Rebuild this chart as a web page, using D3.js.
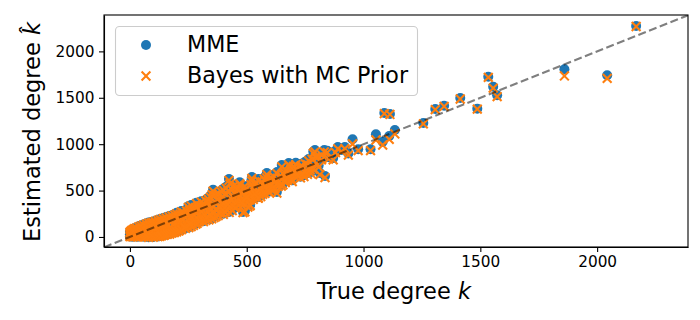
<!DOCTYPE html>
<html>
<head>
<meta charset="utf-8">
<script src="https://cdn.jsdelivr.net/npm/d3@7"></script>
<style>
  html, body { margin: 0; padding: 0; background: #fff; }
  text { font-family: "DejaVu Sans", sans-serif; fill: #000; }
  .tick text { font-size: 15.3px; }
  .tick line, .domain { stroke: #000; stroke-width: 1.1px; }
</style>
</head>
<body>
<div id="chart"></div>
<script>
// Values: true degree, MME estimate, Bayes estimate
var trueDegree = [
  0,0,0,2,3,3,5,6,8,8,
  12,12,14,18,18,20,24,24,28,30,
  34,35,38,40,42,46,48,50,52,55,
  58,60,62,65,68,70,72,75,78,80,
  84,85,88,90,92,95,98,100,100,100,
  105,108,110,112,115,118,120,122,125,128,
  130,132,135,138,140,142,145,148,150,152,
  155,158,160,162,165,168,170,172,175,178,
  180,182,185,188,190,192,195,198,200,202,
  205,208,210,212,215,218,220,222,225,228,
  230,232,235,238,240,242,245,248,250,252,
  255,258,260,262,265,268,270,272,275,278,
  280,282,285,288,290,292,295,298,300,302,
  305,310,312,315,318,320,325,328,330,335,
  338,340,345,348,350,355,358,360,365,368,
  370,375,378,380,385,388,390,395,398,400,
  405,408,410,415,418,420,424,425,428,430,
  435,438,440,445,448,450,455,458,460,465,
  468,470,475,478,480,484,485,488,490,495,
  498,500,505,508,510,514,515,518,520,522,
  525,528,530,535,538,540,545,548,550,555,
  558,560,565,568,570,575,578,580,586,590,
  595,598,600,605,608,610,615,620,625,629,
  630,635,640,645,650,655,660,665,670,675,
  680,685,690,695,700,705,710,715,720,728,
  730,735,740,745,750,755,760,765,770,775,
  780,785,792,800,805,813,820,832,835,850,
  870,880,890,906,920,935,953,977,1030,1053,
  1082,1089,1110,1113,1134,1256,1307,1345,1414,1487,
  1534,1555,1572,1860,2043,2167,
  60,70,80,90,100,110,120,128,135,145,
  150,160,170,180,190,200,210,220,235,257,
  250,262,272,285,295,305,315,325,335,342,
  345,352,356,362,370,378,385,392,400,405,
  412,420,428,435,442,450,458,465,472,480,
  488,492,500,508,515,521,528,535,542,550,
  558,565,572,580,585,592,600,608,615,622,
  630,640,648,656,664,672,685,692,700,710,
  720,735,748,760,772,785,795,808,822,845
];
var mmeDegree = [
  5,30,55,15,40,62,8,50,20,75,
  2,45,85,10,60,95,5,40,100,70,
  3,55,115,30,85,8,125,60,100,10,
  135,40,85,15,120,145,60,20,100,155,
  25,130,70,160,45,110,165,30,85,135,
  60,175,105,25,145,80,185,40,120,160,
  195,30,95,140,65,205,45,115,170,85,
  215,50,130,190,75,225,40,105,160,60,
  235,90,195,55,140,245,75,170,260,90,
  120,215,70,165,255,100,280,85,190,135,
  270,110,220,95,160,290,120,240,185,105,
  300,135,215,115,265,165,310,130,235,190,
  320,145,275,150,205,330,170,250,180,345,
  220,200,300,170,360,245,185,330,210,280,
  190,375,240,315,200,350,265,215,390,225,
  300,410,235,340,260,425,280,320,450,250,
  355,275,480,300,395,510,625,270,420,320,
  530,290,440,345,385,470,330,560,400,350,
  440,590,370,480,345,270,420,510,375,460,
  395,540,330,430,470,345,410,580,450,647,
  490,415,530,440,600,460,510,430,625,480,
  550,445,610,470,520,640,480,570,690,500,
  610,490,650,520,585,545,670,530,620,485,
  700,560,610,680,776,575,720,600,650,625,
  797,640,750,610,780,670,800,680,740,776,
  650,790,700,665,810,730,690,840,760,700,
  860,745,937,810,880,690,850,937,657,860,
  850,930,970,937,970,900,1053,945,945,1106,
  1027,1336,1088,1325,1153,1228,1379,1415,1498,1383,
  1727,1620,1527,1807,1742,2273,
  2,5,-3,8,0,10,5,10,15,20,
  25,30,35,45,50,60,70,85,110,145,
  330,345,290,370,310,385,335,400,420,250,
  440,470,510,460,300,480,330,500,520,280,
  540,360,590,410,560,320,530,470,575,380,
  550,280,440,505,350,620,560,480,595,430,
  535,600,490,625,655,510,580,650,540,620,
  590,660,560,700,620,730,780,640,700,750,
  680,770,720,800,740,920,880,770,900,930
];
var bayesDegree = [
  3,28,50,14,38,58,6,48,18,70,
  1,42,80,8,58,90,4,38,95,66,
  2,52,110,28,80,7,118,58,96,9,
  128,38,82,14,115,138,58,18,96,148,
  24,125,68,152,43,106,158,28,82,130,
  58,168,102,24,140,78,178,38,116,154,
  188,28,92,135,63,198,44,112,164,82,
  206,48,126,184,72,216,38,102,154,58,
  226,86,188,54,135,236,72,164,250,88,
  116,208,68,160,246,96,270,82,184,130,
  260,106,212,92,154,280,116,232,178,102,
  290,130,208,112,256,160,300,126,228,184,
  310,140,266,146,198,320,165,242,175,335,
  214,194,290,165,350,238,180,320,204,272,
  185,362,234,305,195,340,258,210,378,220,
  292,398,230,330,254,412,272,312,436,244,
  345,268,466,292,384,496,610,264,408,312,
  516,284,428,336,376,458,322,545,390,342,
  430,575,362,468,338,262,410,496,366,448,
  386,526,322,420,458,336,400,565,440,630,
  478,406,516,430,585,450,498,420,608,468,
  536,436,594,460,508,622,470,556,672,490,
  594,480,632,508,570,532,652,518,604,472,
  682,546,596,662,756,562,700,586,634,610,
  776,624,730,596,760,654,780,664,722,756,
  636,770,684,650,790,712,674,820,742,684,
  838,728,916,792,860,672,830,916,640,840,
  830,910,950,920,952,882,1002,930,930,1045,
  991,1330,1052,1320,1110,1218,1372,1408,1487,1378,
  1720,1605,1512,1735,1710,2268,
  1,4,-4,6,-2,8,3,8,12,18,
  22,28,32,42,48,56,66,80,104,138,
  318,335,280,360,300,375,325,390,408,240,
  428,455,495,448,290,465,320,485,505,270,
  525,350,572,398,545,312,515,458,560,370,
  536,272,428,492,340,603,545,468,580,420,
  520,585,478,608,638,498,565,632,528,604,
  575,642,548,680,604,710,760,624,682,730,
  662,750,702,780,722,900,860,752,880,910
];
var xTicks = [0, 500, 1000, 1500, 2000];
var yTicks = [0, 500, 1000, 1500, 2000];

var margin = {top: 15, right: 12, bottom: 73, left: 104},
    width = 700 - margin.left - margin.right,
    height = 320 - margin.top - margin.bottom;

var xScale = d3.scaleLinear().domain([-111, 2389]).range([0, width]),
    yScale = d3.scaleLinear().domain([-108, 2392]).range([height, 0]);

var svg = d3.select("#chart").append("svg")
    .attr("width", 700)
    .attr("height", 320)
    .style("display", "block");

svg.append("defs").append("clipPath").attr("id", "plot-clip")
  .append("rect").attr("width", width).attr("height", height);

var g = svg.append("g")
    .attr("transform", "translate(" + margin.left + "," + margin.top + ")");

var plot = g.append("g").attr("clip-path", "url(#plot-clip)");

// MME circles
plot.selectAll("circle.mme")
    .data(trueDegree)
  .enter().append("circle")
    .attr("class", "mme")
    .attr("cx", function (d) { return xScale(d); })
    .attr("cy", function (d, i) { return yScale(mmeDegree[i]); })
    .attr("r", 5)
    .attr("fill", "#1f77b4");

// Bayes crosses
function cross(size) {
  return "M" + (-size) + "," + (-size) + "L" + size + "," + size +
         "M" + (-size) + "," + size + "L" + size + "," + (-size);
}
plot.selectAll("path.bayes")
    .data(trueDegree)
  .enter().append("path")
    .attr("class", "bayes")
    .attr("d", cross(4.4))
    .attr("transform", function (d, i) {
      return "translate(" + xScale(d) + "," + yScale(bayesDegree[i]) + ")";
    })
    .attr("fill", "none")
    .attr("stroke", "#ff7f0e")
    .attr("stroke-width", 2.1);

// y = x reference line
plot.append("path")
    .attr("d", d3.line()
      .x(function (d) { return xScale(d); })
      .y(function (d) { return yScale(d); })([-111, 2392]))
    .attr("fill", "none")
    .attr("stroke", "#000")
    .attr("stroke-opacity", 0.5)
    .attr("stroke-width", 2.1)
    .attr("stroke-dasharray", "8,3.5");

g.append("g")
    .attr("transform", "translate(0," + height + ")")
    .call(d3.axisBottom(xScale).tickValues(xTicks).tickFormat(d3.format("d"))
      .tickSizeInner(5).tickSizeOuter(0).tickPadding(4.5));

g.append("g")
    .call(d3.axisLeft(yScale).tickValues(yTicks).tickFormat(d3.format("d"))
      .tickSizeInner(5).tickSizeOuter(0).tickPadding(4.5));

g.selectAll(".tick text").attr("font-family", null).attr("font-size", null);

g.append("rect")
    .attr("width", width)
    .attr("height", height)
    .attr("fill", "none")
    .attr("stroke", "#000")
    .attr("stroke-width", 1.1);

// Legend
var legend = svg.append("g");
legend.append("rect")
    .attr("x", 115.5).attr("y", 26.5)
    .attr("width", 302).attr("height", 69)
    .attr("rx", 4)
    .attr("fill", "#fff")
    .attr("fill-opacity", 0.8)
    .attr("stroke", "#ccc")
    .attr("stroke-width", 1.1);
legend.append("circle")
    .attr("cx", 146).attr("cy", 45).attr("r", 5)
    .attr("fill", "#1f77b4");
legend.append("path")
    .attr("d", cross(4.4))
    .attr("transform", "translate(146,76)")
    .attr("fill", "none")
    .attr("stroke", "#ff7f0e")
    .attr("stroke-width", 2.1);
legend.append("text")
    .attr("x", 187).attr("y", 52)
    .style("font-size", "22.2px")
    .text("MME");
legend.append("text")
    .attr("x", 187).attr("y", 83)
    .style("font-size", "22.2px")
    .text("Bayes with MC Prior");

// Axis titles
var xTitle = svg.append("text")
    .attr("x", 394).attr("y", 299)
    .style("text-anchor", "middle")
    .style("font-size", "22.5px");
xTitle.append("tspan").text("True degree ");
xTitle.append("tspan").style("font-style", "italic").text("k");

var yTitle = svg.append("text")
    .attr("transform", "translate(40,132) rotate(-90)")
    .style("text-anchor", "middle")
    .style("font-size", "22.5px");
yTitle.append("tspan").text("Estimated degree ");
yTitle.append("tspan").style("font-style", "italic").text("k\u0302");
</script>
</body>
</html>
